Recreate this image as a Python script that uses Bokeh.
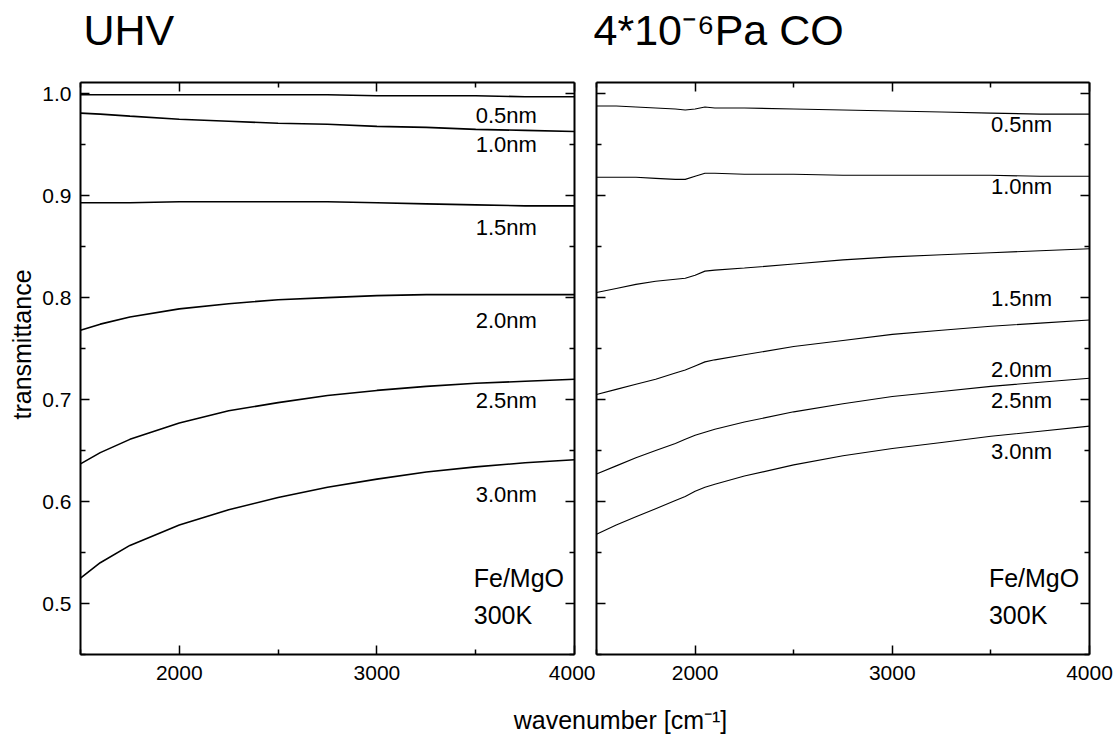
from bokeh.plotting import figure
from bokeh.layouts import row, column
from bokeh.models import (FixedTicker, PrintfTickFormatter, LinearAxis, Label,
                          ColumnDataSource, Range1d, CustomJSTickFormatter)
from bokeh.core.properties import value
from bokeh.embed import file_html
from bokeh.resources import INLINE

FONT = "Liberation Sans"

# ---------------- data ----------------
uhv_x = [1500, 1600, 1750, 2000, 2250, 2500, 2750, 3000, 3250, 3500, 3750, 4000]
uhv_05 = [0.999, 0.999, 0.999, 0.999, 0.999, 0.999, 0.999, 0.998, 0.998, 0.998, 0.997, 0.997]
uhv_10 = [0.981, 0.980, 0.978, 0.975, 0.973, 0.971, 0.970, 0.968, 0.967, 0.965, 0.964, 0.963]
uhv_15 = [0.893, 0.893, 0.893, 0.894, 0.894, 0.894, 0.894, 0.893, 0.892, 0.891, 0.890, 0.890]
uhv_20 = [0.768, 0.774, 0.781, 0.789, 0.794, 0.798, 0.800, 0.802, 0.803, 0.803, 0.803, 0.803]
uhv_25 = [0.637, 0.648, 0.661, 0.677, 0.689, 0.697, 0.704, 0.709, 0.713, 0.716, 0.718, 0.720]
uhv_30 = [0.525, 0.540, 0.557, 0.577, 0.592, 0.604, 0.614, 0.622, 0.629, 0.634, 0.638, 0.641]

co_x = [1500, 1600, 1700, 1800, 1900, 1950, 2000, 2050, 2100, 2250, 2500, 2750, 3000,
        3250, 3500, 3750, 4000]
co_05 = [0.988, 0.988, 0.987, 0.986, 0.985, 0.984, 0.985, 0.987, 0.986, 0.986, 0.985,
         0.984, 0.983, 0.982, 0.981, 0.980, 0.980]
co_10 = [0.918, 0.918, 0.918, 0.917, 0.916, 0.916, 0.919, 0.922, 0.922, 0.921, 0.921,
         0.920, 0.920, 0.920, 0.920, 0.919, 0.919]
co_15 = [0.805, 0.809, 0.813, 0.816, 0.818, 0.819, 0.822, 0.826, 0.827, 0.829, 0.833,
         0.837, 0.840, 0.842, 0.844, 0.846, 0.848]
co_20 = [0.705, 0.710, 0.715, 0.720, 0.726, 0.729, 0.733, 0.737, 0.739, 0.744, 0.752,
         0.758, 0.764, 0.768, 0.772, 0.775, 0.778]
co_25 = [0.627, 0.635, 0.643, 0.650, 0.657, 0.661, 0.665, 0.668, 0.671, 0.678, 0.688,
         0.696, 0.703, 0.708, 0.713, 0.717, 0.721]
co_30 = [0.568, 0.577, 0.585, 0.593, 0.601, 0.605, 0.610, 0.614, 0.617, 0.625, 0.636,
         0.645, 0.652, 0.658, 0.664, 0.669, 0.674]

thickness = ["0.5nm", "1.0nm", "1.5nm", "2.0nm", "2.5nm", "3.0nm"]
uhv_label_y = [0.979, 0.950, 0.869, 0.778, 0.699, 0.607]
co_label_y = [0.9695, 0.9086, 0.7994, 0.7296, 0.699, 0.649]
label_x = 3500
sample_text = ["Fe/MgO", "300K"]
sample_y = [0.525, 0.489]
sample_x = 3490

x_major = [2000, 3000, 4000]
x_minor = [1500, 2500, 3500]
y_major = [0.5, 0.6, 0.7, 0.8, 0.9, 1.0]
y_minor = [0.45, 0.55, 0.65, 0.75, 0.85, 0.95]

titles = ["UHV", "4*10\u207b\u2076Pa CO"]
x_title = "wavenumber [cm\u207b\u00b9]"
y_title = "transmittance"


def style_axis(ax, show_labels):
    ax.axis_line_color = "black"
    ax.axis_line_width = 2
    ax.major_tick_line_color = "black"
    ax.minor_tick_line_color = "black"
    ax.major_tick_line_width = 1.5
    ax.minor_tick_line_width = 1.5
    ax.major_tick_in = 9
    ax.major_tick_out = 0
    ax.minor_tick_in = 5
    ax.minor_tick_out = 0
    if show_labels:
        ax.major_label_text_font = FONT
        ax.major_label_text_font_size = "21px"
        ax.major_label_text_color = "black"
        ax.major_label_standoff = 9
    else:
        ax.formatter = CustomJSTickFormatter(code="return ''")
        ax.major_label_text_font_size = "1px"
        ax.major_label_standoff = 0


def strip(width, height):
    s = figure(width=width, height=height, x_range=Range1d(0, 1), y_range=Range1d(0, 1),
               x_axis_location=None, y_axis_location=None, toolbar_location=None,
               output_backend="svg", min_border=0)
    s.outline_line_color = None
    s.grid.visible = False
    s.title.visible = False
    return s


def make_panel(xs, series, label_y, lw, b_left, b_right, ylabels):
    p = figure(frame_width=494 if ylabels else 493, frame_height=572,
               x_range=Range1d(1500, 4000), y_range=Range1d(0.45, 1.011),
               toolbar_location=None, output_backend="svg",
               min_border_left=b_left, min_border_right=b_right,
               min_border_top=11, min_border_bottom=37)
    p.outline_line_color = None
    p.grid.visible = False
    p.title.visible = False

    p.xaxis.ticker = FixedTicker(ticks=x_major, minor_ticks=x_minor)
    p.yaxis.ticker = FixedTicker(ticks=y_major, minor_ticks=y_minor)
    for ax in p.xaxis:
        style_axis(ax, True)
        ax.major_label_standoff = 11
    for ax in p.yaxis:
        style_axis(ax, ylabels)
    if ylabels:
        p.yaxis.formatter = PrintfTickFormatter(format="%.1f")

    top = LinearAxis(ticker=FixedTicker(ticks=x_major, minor_ticks=x_minor))
    style_axis(top, False)
    p.add_layout(top, "above")
    right = LinearAxis(ticker=FixedTicker(ticks=y_major, minor_ticks=y_minor))
    style_axis(right, False)
    p.add_layout(right, "right")

    for ys in series:
        p.line(xs, ys, line_color="black", line_width=lw)

    src = ColumnDataSource(dict(x=[label_x] * len(thickness), y=label_y, t=thickness))
    p.text(x="x", y="y", text="t", source=src, text_font=value(FONT),
           text_font_size="22px", text_align="left", text_baseline="middle",
           text_color="black")
    src2 = ColumnDataSource(dict(x=[sample_x] * 2, y=sample_y, t=sample_text))
    p.text(x="x", y="y", text="t", source=src2, text_font=value(FONT),
           text_font_size="25px", text_align="left", text_baseline="middle",
           text_color="black")
    return p


# left strip with the y axis title
pL = strip(38, 620)
pL.add_layout(Label(x=21, y=310, x_units="screen", y_units="screen", text=y_title,
                    angle=90, angle_units="deg", text_align="center",
                    text_baseline="middle", text_font=FONT, text_font_size="25px",
                    text_color="black"))

p1 = make_panel(uhv_x, [uhv_05, uhv_10, uhv_15, uhv_20, uhv_25, uhv_30],
                uhv_label_y, 1.6, 42, 21, True)
p2 = make_panel(co_x, [co_05, co_10, co_15, co_20, co_25, co_30],
                co_label_y, 1.1, 1, 24, False)

# top strip with the two panel titles
p0 = strip(1113, 71)
p0.add_layout(Label(x=83, y=42, x_units="screen", y_units="screen", text=titles[0],
                    text_align="left", text_baseline="alphabetic", text_font=FONT,
                    text_font_size="43px", text_color="black"))
p0.add_layout(Label(x=593, y=42, x_units="screen", y_units="screen", text=titles[1],
                    text_align="left", text_baseline="alphabetic", text_font=FONT,
                    text_font_size="43px", text_color="black"))

# bottom strip with the shared x axis title
p3 = strip(1113, 45)
p3.add_layout(Label(x=620, y=17, x_units="screen", y_units="screen", text=x_title,
                    text_align="center", text_baseline="middle", text_font=FONT,
                    text_font_size="25px", text_color="black"))

layout = column(p0, row(pL, p1, p2), p3)
open("out.html", "w").write(file_html(layout, INLINE))
